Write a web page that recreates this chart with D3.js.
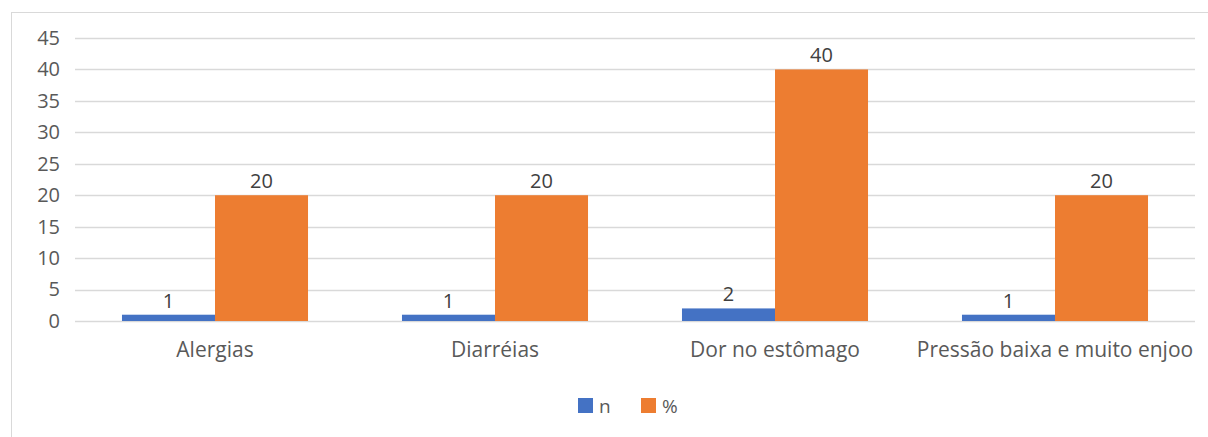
<!DOCTYPE html>
<html>
<head>
<meta charset="utf-8">
<script src="https://cdn.jsdelivr.net/npm/d3@7"></script>
<style>
  html, body { margin: 0; padding: 0; background: #fff; }
  svg { display: block; font-family: "Open Sans", "Segoe UI", sans-serif; }
</style>
</head>
<body>
<svg id="chart" width="1208" height="437"></svg>
<script>
// Symptoms reported, count (n) and share (%)
const categories = ["Alergias", "Diarréias", "Dor no estômago", "Pressão baixa e muito enjoo"];
const seriesNames = ["n", "%"];
const nValues = [1, 1, 2, 1];
const pctValues = [20, 20, 40, 20];
const yTicks = [0, 5, 10, 15, 20, 25, 30, 35, 40, 45];
const colors = ["#4472c4", "#ed7d31"];

const svg = d3.select("#chart");
const W = 1208, H = 437;

// chart area frame
svg.append("rect")
  .attr("x", 11.5).attr("y", 12.5)
  .attr("width", W + 10).attr("height", H + 10)
  .attr("fill", "none").attr("stroke", "#d9d9d9").attr("stroke-width", 1);

const plot = { left: 75, right: 1195, top: 38, bottom: 321 };

const x0 = d3.scaleBand().domain(categories)
  .range([plot.left, plot.right]).paddingInner(0).paddingOuter(0);
const x1 = d3.scaleBand().domain(seriesNames)
  .range([0, x0.bandwidth()]).paddingInner(0).paddingOuter(0.505);
const y = d3.scaleLinear().domain([0, 45]).range([plot.bottom, plot.top]);

// gridlines
svg.append("g")
  .selectAll("line").data(yTicks).join("line")
  .attr("x1", plot.left).attr("x2", plot.right)
  .attr("y1", d => Math.round(y(d)) + 0.5).attr("y2", d => Math.round(y(d)) + 0.5)
  .attr("stroke", "#d9d9d9").attr("stroke-width", 1.3);

// y axis labels
const yAxis = d3.axisLeft(y).tickValues(yTicks).tickSize(0).tickPadding(0);
const gy = svg.append("g").attr("transform", `translate(${plot.left - 15},0)`).call(yAxis);
gy.select(".domain").remove();
gy.selectAll("text")
  .attr("font-size", 20).attr("fill", "#595959")
  .attr("font-family", "Open Sans, sans-serif");

const rows = categories.map((c, i) => ({ cat: c, vals: [nValues[i], pctValues[i]] }));

const groups = svg.append("g").selectAll("g").data(rows).join("g")
  .attr("transform", d => `translate(${x0(d.cat)},0)`);

groups.selectAll("rect")
  .data(d => d.vals.map((v, k) => ({ key: seriesNames[k], v, k })))
  .join("rect")
  .attr("x", d => x1(d.key))
  .attr("width", x1.bandwidth())
  .attr("y", d => y(d.v))
  .attr("height", d => y(0) - y(d.v))
  .attr("fill", d => colors[d.k]);

groups.selectAll("text.val")
  .data(d => d.vals.map((v, k) => ({ key: seriesNames[k], v, k })))
  .join("text").attr("class", "val")
  .attr("x", d => x1(d.key) + x1.bandwidth() / 2)
  .attr("y", d => y(d.v) - 7)
  .attr("text-anchor", "middle")
  .attr("font-size", 20).attr("fill", "#404040")
  .text(d => d.v);

// category axis labels
const xAxis = d3.axisBottom(x0).tickSize(0).tickPadding(0);
const gx = svg.append("g").attr("transform", `translate(0,${plot.bottom + 21})`).call(xAxis);
gx.select(".domain").remove();
gx.selectAll("text")
  .attr("font-size", 21).attr("fill", "#595959")
  .attr("font-family", "Open Sans, sans-serif");

// legend
const legend = svg.append("g").attr("transform", "translate(578,398)");
const items = legend.selectAll("g").data(seriesNames).join("g")
  .attr("transform", (d, i) => `translate(${i * 63},0)`);
items.append("rect").attr("width", 15).attr("height", 15)
  .attr("fill", (d, i) => colors[i]);
items.append("text").attr("x", 21).attr("y", 15)
  .attr("font-size", 19).attr("fill", "#595959")
  .text(d => d);
</script>
</body>
</html>
